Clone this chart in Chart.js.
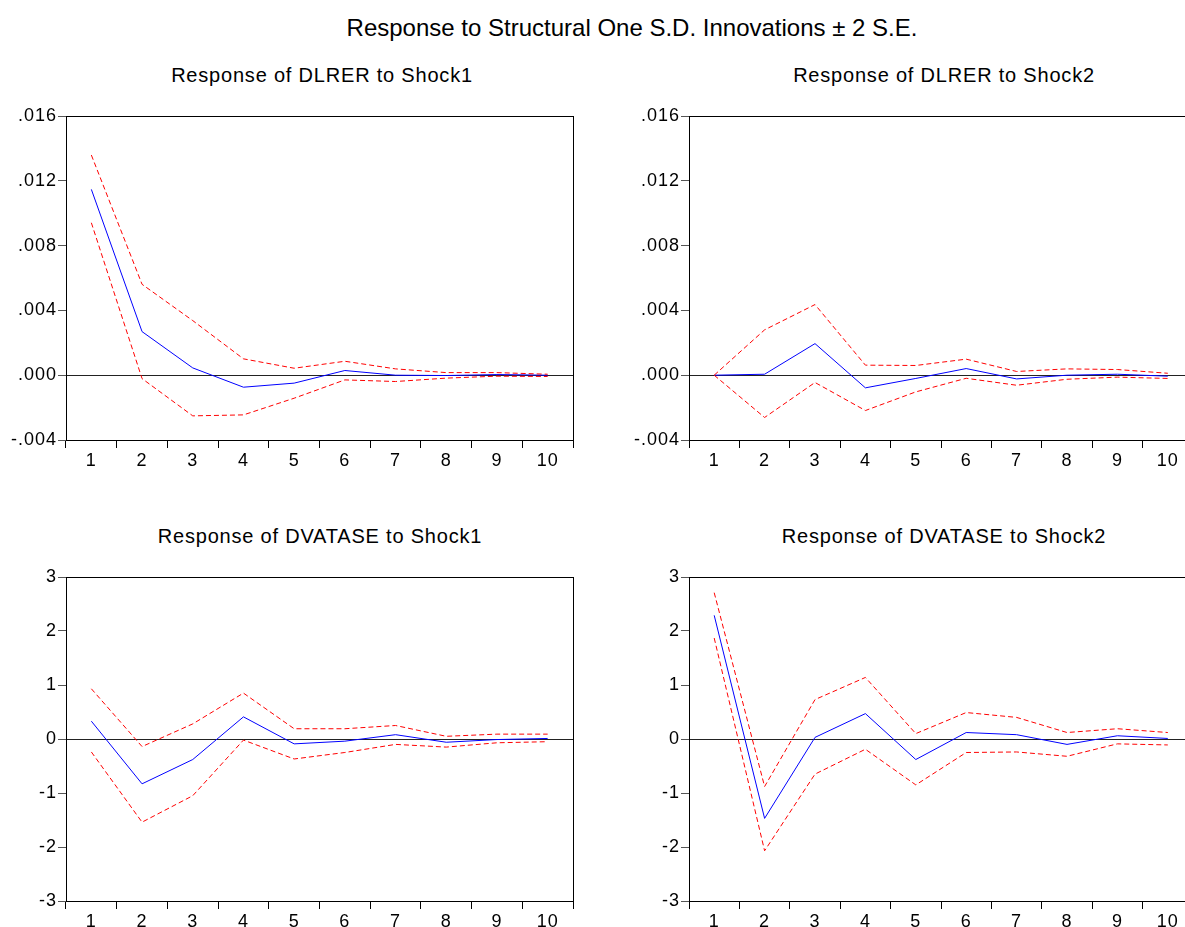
<!DOCTYPE html>
<html>
<head>
<meta charset="utf-8">
<script src="https://cdn.jsdelivr.net/npm/chart.js@4.4.1/dist/chart.umd.min.js"></script>
<style>
  html, body { margin: 0; padding: 0; background: #fff; width: 1185px; height: 927px; overflow: hidden; position: relative; }
  body { font-family: "Liberation Sans", Arial, sans-serif; color: #000; }
  .ttl { position: absolute; white-space: nowrap; text-align: center; line-height: 1; }
  #main { left: 0; width: 1264px; top: 16px; font-size: 24px; }
  .sub { font-size: 20px; letter-spacing: 0.8px; width: 600px; }
  canvas { position: absolute; }
</style>
</head>
<body>
<div id="main" class="ttl">Response to Structural One S.D. Innovations ± 2 S.E.</div>
<div id="t1" class="ttl sub" style="left:22px; top:65px;">Response of DLRER to Shock1</div>
<div id="t2" class="ttl sub" style="left:644px; top:65px;">Response of DLRER to Shock2</div>
<div id="t3" class="ttl sub" style="left:20px; top:526px;">Response of DVATASE to Shock1</div>
<div id="t4" class="ttl sub" style="left:644px; top:526px;">Response of DVATASE to Shock2</div>
<canvas id="c1" width="600" height="430" style="left:0px; top:50px;"></canvas>
<canvas id="c2" width="600" height="430" style="left:623px; top:50px;"></canvas>
<canvas id="c3" width="600" height="430" style="left:0px; top:511px;"></canvas>
<canvas id="c4" width="600" height="430" style="left:623px; top:511px;"></canvas>
<script>
// ---- data ----
const periods = ['1','2','3','4','5','6','7','8','9','10'];

const dlrerShock1      = [0.01147, 0.00269, 0.00045, -0.00074, -0.00049, 0.00029, 0.00000, -0.00002, 0.00004, 0.00000];
const dlrerShock1Upper = [0.01359, 0.00561, 0.00337, 0.00101, 0.00043, 0.00086, 0.00039, 0.00016, 0.00016, 0.00006];
const dlrerShock1Lower = [0.00941, -0.00021, -0.00251, -0.00245, -0.00142, -0.00029, -0.00039, -0.00018, -0.00006, -0.00008];

const dlrerShock2      = [0.00000, 0.00006, 0.00195, -0.00078, -0.00020, 0.00041, -0.00023, 0.00000, 0.00006, -0.00006];
const dlrerShock2Upper = [0.00000, 0.00280, 0.00436, 0.00062, 0.00060, 0.00099, 0.00023, 0.00039, 0.00035, 0.00012];
const dlrerShock2Lower = [0.00000, -0.00261, -0.00045, -0.00218, -0.00103, -0.00019, -0.00062, -0.00025, -0.00012, -0.00020];

const dvataseShock1      = [0.33, -0.83, -0.38, 0.41, -0.09, -0.04, 0.08, -0.06, -0.01, 0.01];
const dvataseShock1Upper = [0.93, -0.14, 0.28, 0.85, 0.19, 0.19, 0.25, 0.05, 0.09, 0.09];
const dvataseShock1Lower = [-0.24, -1.54, -1.05, -0.02, -0.37, -0.25, -0.10, -0.15, -0.07, -0.05];

const dvataseShock2      = [2.29, -1.47, 0.03, 0.47, -0.38, 0.12, 0.08, -0.10, 0.06, 0.01];
const dvataseShock2Upper = [2.71, -0.88, 0.73, 1.14, 0.10, 0.49, 0.40, 0.12, 0.19, 0.12];
const dvataseShock2Lower = [1.87, -2.07, -0.65, -0.19, -0.85, -0.25, -0.24, -0.32, -0.09, -0.11];

const dlrerTicks   = [-0.004, 0.000, 0.004, 0.008, 0.012, 0.016];
const dvataseTicks = [-3, -2, -1, 0, 1, 2, 3];

// ---- helpers ----
const FONT = '"Liberation Sans", Arial, sans-serif';

const framePlugin = {
  id: 'frame',
  beforeLayout(chart) { chart.ctx.letterSpacing = '1px'; },
  beforeDraw(chart) { chart.ctx.letterSpacing = '1px'; },
  beforeDatasetsDraw(chart) {
    const ctx = chart.ctx, a = chart.chartArea, y = chart.scales.y;
    const zy = Math.round(y.getPixelForValue(0)) + 0.5;
    ctx.save();
    ctx.strokeStyle = '#222';
    ctx.lineWidth = 1;
    ctx.beginPath();
    ctx.moveTo(a.left, zy);
    ctx.lineTo(a.right, zy);
    ctx.stroke();
    ctx.restore();
  },
  afterDraw(chart) {
    const ctx = chart.ctx, a = chart.chartArea;
    ctx.save();
    ctx.strokeStyle = '#000';
    ctx.lineWidth = 1;
    ctx.strokeRect(Math.round(a.left) + 0.5, Math.round(a.top) + 0.5,
                   Math.round(a.right - a.left), Math.round(a.bottom - a.top));
    ctx.restore();
  }
};

function fmtDlrer(v) {
  const s = Number(v).toFixed(3);
  return s.replace(/^(-?)0\./, '$1.');
}

function makeChart(id, mid, up, lo, yTicks, fmt, padRight) {
  const step = yTicks[1] - yTicks[0];
  new Chart(document.getElementById(id), {
    type: 'line',
    data: {
      labels: periods,
      datasets: [
        { data: up, borderColor: '#ff0000', borderWidth: 1, borderDash: [5, 3], pointRadius: 0, fill: false, tension: 0 },
        { data: lo, borderColor: '#ff0000', borderWidth: 1, borderDash: [5, 3], pointRadius: 0, fill: false, tension: 0 },
        { data: mid, borderColor: '#0000ff', borderWidth: 1, pointRadius: 0, fill: false, tension: 0 }
      ]
    },
    options: {
      responsive: false,
      animation: false,
      events: [],
      layout: { padding: { left: 0, right: padRight, top: 66, bottom: 0 } },
      plugins: { legend: { display: false }, tooltip: { enabled: false }, title: { display: false } },
      scales: {
        x: {
          type: 'category',
          offset: true,
          grid: { offset: true, drawOnChartArea: false, drawTicks: true, tickLength: 8, color: '#000', lineWidth: 1 },
          border: { display: false },
          ticks: { color: '#000', font: { family: FONT, size: 18 }, padding: 2, maxRotation: 0, autoSkip: false },
          afterFit(scale) { scale.height = 40; }
        },
        y: {
          min: yTicks[0],
          max: yTicks[yTicks.length - 1],
          afterBuildTicks(scale) { scale.ticks = yTicks.map(v => ({ value: v })); },
          grid: { drawOnChartArea: false, drawTicks: true, tickLength: 8, color: '#555', lineWidth: 1 },
          border: { display: false },
          ticks: { color: '#000', font: { family: FONT, size: 18 }, padding: 1, callback: fmt, stepSize: step },
          afterFit(scale) { scale.width = 66; }
        }
      }
    },
    plugins: [framePlugin]
  });
}

makeChart('c1', dlrerShock1, dlrerShock1Upper, dlrerShock1Lower, dlrerTicks, fmtDlrer, 27);
makeChart('c2', dlrerShock2, dlrerShock2Upper, dlrerShock2Lower, dlrerTicks, fmtDlrer, 30);
makeChart('c3', dvataseShock1, dvataseShock1Upper, dvataseShock1Lower, dvataseTicks, v => String(v), 27);
makeChart('c4', dvataseShock2, dvataseShock2Upper, dvataseShock2Lower, dvataseTicks, v => String(v), 30);
</script>
</body>
</html>
